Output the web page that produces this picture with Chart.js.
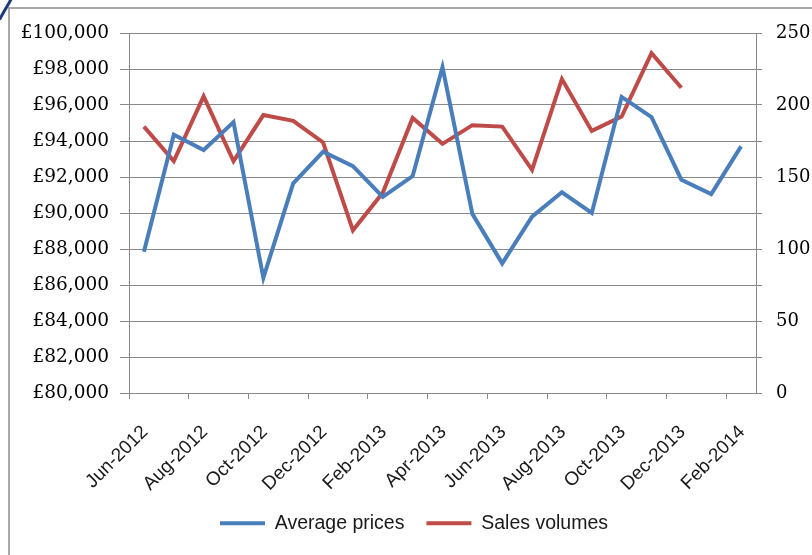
<!DOCTYPE html>
<html>
<head>
<meta charset="utf-8">
<script src="https://cdn.jsdelivr.net/npm/chart.js@4/dist/chart.umd.min.js"></script>
<style>
  body { margin: 0; background: #fff; }
  #wrap { position: relative; width: 812px; height: 555px; overflow: hidden; }
  #frame { position: absolute; left: 8px; top: 7px; width: 900px; height: 700px;
           border-left: 2px solid #a9a9a9; border-top: 2px solid #a9a9a9; }
  #swoosh { position: absolute; left: 4px; top: -3px; width: 3px; height: 24px;
            background: #1f3a78; transform: rotate(30deg); }
  canvas { position: absolute; left: 0; top: 0; }
</style>
</head>
<body>
<div id="wrap">
  <div id="frame"></div>
  <div id="swoosh"></div>
  <canvas id="myChart" width="812" height="555"></canvas>
</div>
<script>
'use strict';
// months shown on the axis (one per data point)
let months = ['Jun-2012', 'Jul-2012', 'Aug-2012', 'Sep-2012', 'Oct-2012', 'Nov-2012', 'Dec-2012',
  'Jan-2013', 'Feb-2013', 'Mar-2013', 'Apr-2013', 'May-2013', 'Jun-2013', 'Jul-2013',
  'Aug-2013', 'Sep-2013', 'Oct-2013', 'Nov-2013', 'Dec-2013', 'Jan-2014', 'Feb-2014'];

// average prices (left axis, £)
let avgPrices = [87850, 94350, 93500, 95050, 86400, 91650, 93400, 92600, 90900, 92050,
  98100, 89950, 87200, 89800, 91150, 90000, 96450, 95330, 91850, 91050, 93700];

// sales volumes (right axis), no data after Dec-2013
let salesVolumes = [185, 161, 206, 161, 193, 189, 174, 113, 139, 191,
  173, 186, 185, 155, 218, 182, 192, 236, 212];

let priceTicks = { min: 80000, max: 100000, step: 2000 };
let volumeTicks = { min: 0, max: 250, step: 25, labelEvery: 50 };

// points sit half way through each month
function toPoints(values) {
  let pts = [];
  for (let i = 0; i < values.length; i++) {
    pts.push({ x: i + 0.5, y: values[i] });
  }
  return pts;
}

let gridGrey = '#8a8a8a';

function chartRender() {
  let ctx = document.getElementById('myChart').getContext('2d');
  new Chart(ctx, {
    type: 'line',
    data: {
      datasets: [{
        label: 'Average prices',
        data: toPoints(avgPrices),
        borderColor: '#4a7ebb',
        backgroundColor: '#4a7ebb',
        borderWidth: 4,
        pointRadius: 0,
        yAxisID: 'y'
      }, {
        label: 'Sales volumes',
        data: toPoints(salesVolumes),
        borderColor: '#be4b48',
        backgroundColor: '#be4b48',
        borderWidth: 4,
        pointRadius: 0,
        yAxisID: 'y2'
      }]
    },
    options: {
      responsive: false,
      animation: false,
      layout: { padding: { top: 33, left: 16, right: 0, bottom: 12 } },
      plugins: {
        tooltip: { enabled: false },
        legend: {
          position: 'bottom',
          labels: {
            usePointStyle: true,
            pointStyle: 'line',
            pointStyleWidth: 45,
            boxWidth: 45,
            padding: 22,
            color: '#1a1a1a',
            font: { family: 'Liberation Sans', size: 19.5 }
          }
        }
      },
      scales: {
        x: {
          type: 'linear',
          min: 0,
          max: months.length,
          afterFit: function (scale) { scale.height = 98.5; },
          border: { color: gridGrey },
          grid: { drawOnChartArea: false, color: gridGrey, tickLength: 6 },
          ticks: {
            stepSize: 2,
            includeBounds: false,
            autoSkip: false,
            minRotation: 45,
            maxRotation: 45,
            padding: 22,
            labelOffset: 16,
            color: '#1a1a1a',
            font: { family: 'Liberation Sans', size: 19 },
            callback: function (v) { return months[v] || ''; }
          }
        },
        y: {
          position: 'left',
          min: priceTicks.min,
          max: priceTicks.max,
          afterFit: function (scale) { scale.width = 113; },
          border: { color: gridGrey },
          grid: { color: gridGrey, tickLength: 9 },
          ticks: {
            stepSize: priceTicks.step,
            padding: 11,
            color: '#000',
            font: { family: 'DejaVu Serif', size: 18.5 },
            callback: function (v) { return '£' + v.toLocaleString('en-GB'); }
          }
        },
        y2: {
          position: 'right',
          min: volumeTicks.min,
          max: volumeTicks.max,
          afterFit: function (scale) { scale.width = 56; },
          border: { color: gridGrey },
          grid: { drawOnChartArea: false, color: gridGrey, tickLength: 6 },
          ticks: {
            stepSize: volumeTicks.step,
            padding: 14,
            color: '#000',
            font: { family: 'DejaVu Serif', size: 18 },
            callback: function (v) { return v % volumeTicks.labelEvery === 0 ? v : ''; }
          }
        }
      }
    }
  });
}

chartRender();
</script>
</body>
</html>
